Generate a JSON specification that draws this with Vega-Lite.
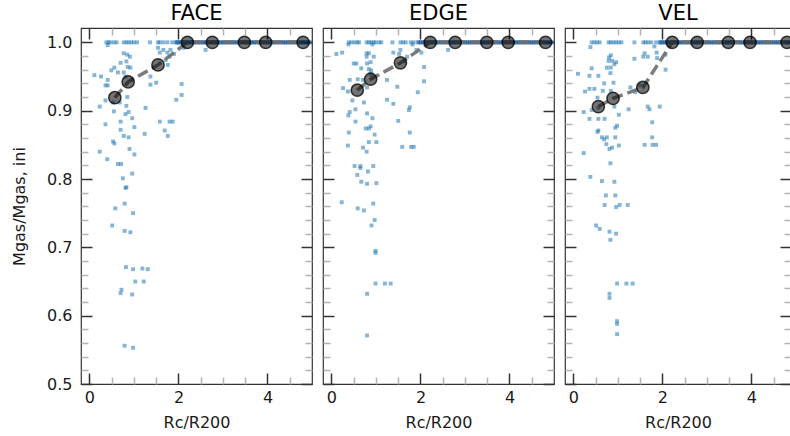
{
  "$schema": "https://vega.github.io/schema/vega-lite/v6.json",
  "background": "white",
  "padding": {"left": 10, "top": 2, "right": 0, "bottom": 0},
  "bounds": "flush",
  "spacing": 11,
  "config": {
    "font": "DejaVu Sans",
    "view": {"stroke": "#333333", "strokeWidth": 1.2},
    "axis": {"domain": false, "grid": false, "labelFont": "DejaVu Sans", "labelFontSize": 16, "labelColor": "#1a1a1a", "titleFont": "DejaVu Sans", "titleFontSize": 16, "titleFontWeight": "normal", "titleColor": "#1a1a1a", "tickWidth": 1.5, "labelOverlap": false, "labelFlush": false},
    "title": {"font": "DejaVu Sans", "fontSize": 21, "fontWeight": "normal", "color": "#000000", "offset": 3}
  },
  "datasets": {
    "band": [{"x":1.95,"y":1},{"x":2.0,"y":1},{"x":2.05,"y":1},{"x":2.1,"y":1},{"x":2.15,"y":1},{"x":2.2,"y":1},{"x":2.25,"y":1},{"x":2.3,"y":1},{"x":2.35,"y":1},{"x":2.4,"y":1},{"x":2.45,"y":1},{"x":2.5,"y":1},{"x":2.55,"y":1},{"x":2.6,"y":1},{"x":2.65,"y":1},{"x":2.7,"y":1},{"x":2.75,"y":1},{"x":2.8,"y":1},{"x":2.85,"y":1},{"x":2.9,"y":1},{"x":2.95,"y":1},{"x":3.0,"y":1},{"x":3.05,"y":1},{"x":3.1,"y":1},{"x":3.15,"y":1},{"x":3.2,"y":1},{"x":3.25,"y":1},{"x":3.3,"y":1},{"x":3.35,"y":1},{"x":3.4,"y":1},{"x":3.45,"y":1},{"x":3.5,"y":1},{"x":3.55,"y":1},{"x":3.6,"y":1},{"x":3.65,"y":1},{"x":3.7,"y":1},{"x":3.75,"y":1},{"x":3.8,"y":1},{"x":3.85,"y":1},{"x":3.9,"y":1},{"x":3.95,"y":1},{"x":4.0,"y":1},{"x":4.05,"y":1},{"x":4.1,"y":1},{"x":4.15,"y":1},{"x":4.2,"y":1},{"x":4.25,"y":1},{"x":4.3,"y":1},{"x":4.35,"y":1},{"x":4.4,"y":1},{"x":4.45,"y":1},{"x":4.5,"y":1},{"x":4.55,"y":1},{"x":4.6,"y":1},{"x":4.65,"y":1},{"x":4.7,"y":1},{"x":4.75,"y":1},{"x":4.8,"y":1},{"x":4.85,"y":1},{"x":4.9,"y":1},{"x":4.95,"y":1}],
    "face": [{"x":0.38,"y":1},{"x":0.43,"y":1},{"x":0.47,"y":1},{"x":0.55,"y":1},{"x":0.61,"y":1},{"x":0.77,"y":1},{"x":0.83,"y":1},{"x":0.88,"y":1},{"x":0.94,"y":1},{"x":1.0,"y":1},{"x":1.07,"y":1},{"x":1.36,"y":1},{"x":1.54,"y":1},{"x":1.58,"y":1},{"x":1.66,"y":1},{"x":1.75,"y":1},{"x":1.86,"y":1},{"x":1.97,"y":1},{"x":0.41,"y":0.996},
      {"x":2.61,"y":0.989},{"x":1.54,"y":0.992},{"x":1.66,"y":0.989},{"x":1.58,"y":0.985},{"x":1.75,"y":0.985},{"x":1.82,"y":0.989},{"x":2.12,"y":0.992},{"x":1.9,"y":0.983},{"x":1.8,"y":0.979},{"x":1.71,"y":0.974},{"x":1.76,"y":0.967},{"x":0.77,"y":0.984},{"x":0.85,"y":0.982},{"x":0.91,"y":0.979},{"x":0.83,"y":0.972},{"x":0.7,"y":0.97},{"x":0.56,"y":0.963},{"x":0.49,"y":0.959},{"x":0.64,"y":0.956},{"x":0.86,"y":0.964},{"x":0.92,"y":0.963},{"x":0.77,"y":0.956},{"x":0.81,"y":0.95},{"x":0.11,"y":0.952},{"x":0.26,"y":0.95},{"x":0.41,"y":0.945},{"x":0.36,"y":0.937},{"x":0.41,"y":0.937},{"x":0.94,"y":0.945},{"x":1.37,"y":0.95},{"x":1.5,"y":0.941},{"x":1.37,"y":0.938},{"x":2.07,"y":0.939},{"x":2.07,"y":0.923},{"x":1.95,"y":0.916},{"x":0.85,"y":0.92},{"x":0.36,"y":0.915},{"x":0.23,"y":0.906},{"x":0.53,"y":0.912},{"x":0.68,"y":0.912},{"x":0.55,"y":0.899},{"x":0.83,"y":0.907},{"x":0.88,"y":0.898},{"x":0.81,"y":0.895},{"x":0.96,"y":0.889},{"x":1.26,"y":0.904},{"x":0.7,"y":0.884},{"x":0.36,"y":0.88},{"x":1.58,"y":0.884},{"x":1.8,"y":0.884},{"x":1.87,"y":0.884},{"x":0.7,"y":0.872},{"x":1.01,"y":0.876},{"x":1.69,"y":0.871},{"x":1.76,"y":0.863},{"x":1.24,"y":0.866},{"x":0.77,"y":0.863},{"x":0.88,"y":0.861},{"x":0.53,"y":0.855},{"x":0.56,"y":0.852},{"x":0.23,"y":0.84},{"x":0.9,"y":0.844},{"x":1.01,"y":0.836},{"x":0.4,"y":0.829},{"x":0.64,"y":0.822},{"x":0.71,"y":0.822},{"x":0.96,"y":0.808},{"x":0.75,"y":0.801},{"x":0.81,"y":0.787},{"x":0.83,"y":0.788},{"x":0.58,"y":0.757},{"x":0.79,"y":0.764},{"x":0.98,"y":0.75},{"x":0.51,"y":0.732},{"x":0.79,"y":0.724},{"x":0.92,"y":0.722},{"x":0.82,"y":0.671},{"x":0.98,"y":0.668},{"x":1.19,"y":0.669},{"x":1.31,"y":0.668},{"x":1.03,"y":0.65},{"x":1.22,"y":0.65},{"x":0.72,"y":0.638},{"x":0.7,"y":0.633},{"x":0.96,"y":0.631},{"x":0.79,"y":0.556},{"x":0.98,"y":0.553}],
    "edge": [{"x":0.39,"y":1},{"x":0.45,"y":1},{"x":0.52,"y":1},{"x":0.58,"y":1},{"x":0.62,"y":1},{"x":0.79,"y":1},{"x":0.84,"y":1},{"x":0.89,"y":1},{"x":0.95,"y":1},{"x":0.99,"y":1},{"x":1.07,"y":1},{"x":1.12,"y":1},{"x":1.37,"y":1},{"x":1.55,"y":1},{"x":1.61,"y":1},{"x":1.67,"y":1},{"x":1.78,"y":1},{"x":1.85,"y":1},
      {"x":0.38,"y":0.997},{"x":0.92,"y":0.997},{"x":1.82,"y":0.997},{"x":0.11,"y":0.983},{"x":0.24,"y":0.985},{"x":2.62,"y":0.989},{"x":2.02,"y":0.985},{"x":1.91,"y":0.989},{"x":0.79,"y":0.984},{"x":0.84,"y":0.984},{"x":0.79,"y":0.979},{"x":0.95,"y":0.979},{"x":1.39,"y":0.985},{"x":1.55,"y":0.989},{"x":1.52,"y":0.983},{"x":1.7,"y":0.979},{"x":1.64,"y":0.972},{"x":0.5,"y":0.969},{"x":0.56,"y":0.969},{"x":0.8,"y":0.969},{"x":0.88,"y":0.971},{"x":0.67,"y":0.962},{"x":0.84,"y":0.961},{"x":0.89,"y":0.959},{"x":2.08,"y":0.964},{"x":1.25,"y":0.945},{"x":1.48,"y":0.935},{"x":2.08,"y":0.943},{"x":1.94,"y":0.927},{"x":0.41,"y":0.945},{"x":0.59,"y":0.946},{"x":0.71,"y":0.945},{"x":0.8,"y":0.934},{"x":0.88,"y":0.954},{"x":0.92,"y":0.949},{"x":0.26,"y":0.933},{"x":0.37,"y":0.928},{"x":0.47,"y":0.915},{"x":0.73,"y":0.912},{"x":1.25,"y":0.916},{"x":1.39,"y":0.91},{"x":0.54,"y":0.902},{"x":0.41,"y":0.898},{"x":0.38,"y":0.893},{"x":0.8,"y":0.896},{"x":0.92,"y":0.889},{"x":1.76,"y":0.905},{"x":1.74,"y":0.901},{"x":0.54,"y":0.884},{"x":1.5,"y":0.885},{"x":0.77,"y":0.874},{"x":0.84,"y":0.874},{"x":0.88,"y":0.877},{"x":0.39,"y":0.868},{"x":0.97,"y":0.865},{"x":1.76,"y":0.868},{"x":0.37,"y":0.849},{"x":0.71,"y":0.846},{"x":0.79,"y":0.84},{"x":0.84,"y":0.854},{"x":1.01,"y":0.854},{"x":1.59,"y":0.847},{"x":1.79,"y":0.847},{"x":1.85,"y":0.847},{"x":0.52,"y":0.819},{"x":0.65,"y":0.819},{"x":0.65,"y":0.816},{"x":0.94,"y":0.819},{"x":0.82,"y":0.811},{"x":0.58,"y":0.806},{"x":0.67,"y":0.796},{"x":0.8,"y":0.793},{"x":1.01,"y":0.794},{"x":0.23,"y":0.766},{"x":0.59,"y":0.757},{"x":0.73,"y":0.754},{"x":0.94,"y":0.764},{"x":0.97,"y":0.74},{"x":0.9,"y":0.732},{"x":0.99,"y":0.695},{"x":0.99,"y":0.692},{"x":0.99,"y":0.647},{"x":1.2,"y":0.647},{"x":1.33,"y":0.647},{"x":0.8,"y":0.632},{"x":0.8,"y":0.571}],
    "vel": [{"x":0.41,"y":1},{"x":0.47,"y":1},{"x":0.53,"y":1},{"x":0.59,"y":1},{"x":0.79,"y":1},{"x":0.84,"y":1},{"x":0.9,"y":1},{"x":0.96,"y":1},{"x":1.02,"y":1},{"x":1.08,"y":1},{"x":1.37,"y":1},{"x":1.57,"y":1},{"x":1.62,"y":1},{"x":1.68,"y":1},{"x":1.75,"y":1},{"x":1.86,"y":1},{"x":1.96,"y":1},
      {"x":0.38,"y":0.993},{"x":1.82,"y":0.994},{"x":1.6,"y":0.984},{"x":1.67,"y":0.979},{"x":1.57,"y":0.979},{"x":1.37,"y":0.976},{"x":1.87,"y":0.985},{"x":1.88,"y":0.977},{"x":2.07,"y":0.982},{"x":2.07,"y":0.96},{"x":0.84,"y":0.981},{"x":0.8,"y":0.978},{"x":0.79,"y":0.973},{"x":0.87,"y":0.973},{"x":0.96,"y":0.971},{"x":0.75,"y":0.963},{"x":0.84,"y":0.963},{"x":0.92,"y":0.968},{"x":0.41,"y":0.962},{"x":0.1,"y":0.954},{"x":0.36,"y":0.951},{"x":0.56,"y":0.951},{"x":0.83,"y":0.955},{"x":0.69,"y":0.94},{"x":0.9,"y":0.941},{"x":0.26,"y":0.928},{"x":0.36,"y":0.932},{"x":0.47,"y":0.932},{"x":0.66,"y":0.929},{"x":0.84,"y":0.929},{"x":0.54,"y":0.919},{"x":1.28,"y":0.934},{"x":1.39,"y":0.927},{"x":1.5,"y":0.937},{"x":0.23,"y":0.898},{"x":0.41,"y":0.901},{"x":0.56,"y":0.904},{"x":0.92,"y":0.906},{"x":1.24,"y":0.902},{"x":1.67,"y":0.906},{"x":1.71,"y":0.902},{"x":1.94,"y":0.906},{"x":0.36,"y":0.888},{"x":0.56,"y":0.888},{"x":0.7,"y":0.888},{"x":1.02,"y":0.894},{"x":1.77,"y":0.883},{"x":0.56,"y":0.871},{"x":0.54,"y":0.869},{"x":0.94,"y":0.875},{"x":0.98,"y":0.878},{"x":0.64,"y":0.861},{"x":0.69,"y":0.858},{"x":0.75,"y":0.861},{"x":0.94,"y":0.861},{"x":0.74,"y":0.851},{"x":0.81,"y":0.844},{"x":0.87,"y":0.846},{"x":1.02,"y":0.849},{"x":1.77,"y":0.861},{"x":1.6,"y":0.85},{"x":1.78,"y":0.85},{"x":1.86,"y":0.85},{"x":0.23,"y":0.838},{"x":0.83,"y":0.823},{"x":0.38,"y":0.803},{"x":0.64,"y":0.797},{"x":0.92,"y":0.796},{"x":0.73,"y":0.776},{"x":0.94,"y":0.776},{"x":0.7,"y":0.762},{"x":0.96,"y":0.759},{"x":1.04,"y":0.762},{"x":1.22,"y":0.762},{"x":0.51,"y":0.732},{"x":0.59,"y":0.727},{"x":0.81,"y":0.723},{"x":0.96,"y":0.72},{"x":0.83,"y":0.711},{"x":0.98,"y":0.647},{"x":1.19,"y":0.647},{"x":1.33,"y":0.647},{"x":0.81,"y":0.632},{"x":0.81,"y":0.626},{"x":0.98,"y":0.592},{"x":0.98,"y":0.588},{"x":0.98,"y":0.573}],
    "face_mean": [{"x":0.57,"y":0.919},{"x":0.87,"y":0.942},{"x":1.54,"y":0.967},{"x":2.2,"y":1.0},{"x":2.76,"y":1.0},{"x":3.48,"y":1.0},{"x":3.96,"y":1.0},{"x":4.8,"y":1.0}],
    "edge_mean": [{"x":0.58,"y":0.93},{"x":0.88,"y":0.946},{"x":1.55,"y":0.97},{"x":2.22,"y":1.0},{"x":2.78,"y":1.0},{"x":3.49,"y":1.0},{"x":3.97,"y":1.0},{"x":4.81,"y":1.0}],
    "vel_mean": [{"x":0.56,"y":0.906},{"x":0.89,"y":0.918},{"x":1.56,"y":0.934},{"x":2.22,"y":1.0},{"x":2.78,"y":1.0},{"x":3.48,"y":1.0},{"x":3.97,"y":1.0},{"x":4.8,"y":1.0}]
  },
  "hconcat": [
    {
      "title": {"text": "FACE", "fontSize": 21, "offset": 3}, "width": 231, "height": 356,
      "resolve": {"axis": {"x": "independent", "y": "independent"}},
      "layer": [
        {"data": {"name": "band"}, "mark": {"type": "point", "shape": "square", "filled": true, "size": 16, "color": "#1f5f9e", "opacity": 0.75, "strokeWidth": 0},
         "encoding": {"x": {"field": "x", "type": "quantitative", "scale": {"domain": [-0.19, 5.0], "nice": false, "zero": false}, "axis": null},
                      "y": {"field": "y", "type": "quantitative", "scale": {"domain": [0.5, 1.021], "nice": false, "zero": false}, "axis": null}}},
        {"data": {"name": "face"}, "mark": {"type": "point", "shape": "square", "filled": true, "size": 15, "color": "#1f77b4", "opacity": 0.55, "strokeWidth": 0},
         "encoding": {"x": {"field": "x", "type": "quantitative", "scale": {"domain": [-0.19, 5.0], "nice": false, "zero": false},
                            "axis": {"orient": "bottom", "values": [0,0.5,1,1.5,2,2.5,3,3.5,4,4.5], "title": "Rc/R200", "labelFontSize": 16, "titleFontSize": 16, "labelExpr": "datum.value % 2 === 0 ? format(datum.value, 'd') : ''", "tickSize": {"condition": {"test": "datum.value % 2 === 0", "value": -11}, "value": -7}, "tickColor": {"condition": {"test": "datum.value % 2 === 0", "value": "#333333"}, "value": "#b3b3b3"}, "labelPadding": 16, "titlePadding": 5}},
                      "y": {"field": "y", "type": "quantitative", "scale": {"domain": [0.5, 1.021], "nice": false, "zero": false},
                            "axis": {"orient": "left", "values": [0.5,0.52,0.54,0.56,0.58,0.6,0.62,0.64,0.66,0.68,0.7,0.72,0.74,0.76,0.78,0.8,0.82,0.84,0.86,0.88,0.9,0.92,0.94,0.96,0.98,1.0], "title": "Mgas/Mgas, ini", "labelFontSize": 16, "titleFontSize": 16, "labelExpr": "abs(datum.value*10 - round(datum.value*10)) < 0.001 ? format(datum.value, '.1f') : ''", "tickSize": {"condition": {"test": "abs(datum.value*10 - round(datum.value*10)) < 0.001", "value": -11}, "value": -7}, "tickColor": {"condition": {"test": "abs(datum.value*10 - round(datum.value*10)) < 0.001", "value": "#333333"}, "value": "#b3b3b3"}, "labelPadding": 20, "titlePadding": 19}}}},
        {"data": {"name": "face_mean"}, "mark": {"type": "line", "color": "#6e6e6e", "strokeWidth": 3.5, "strokeDash": [11, 5], "opacity": 0.9},
         "encoding": {"x": {"field": "x", "type": "quantitative", "scale": {"domain": [-0.19, 5.0], "nice": false, "zero": false},
                            "axis": {"orient": "top", "values": [0,0.5,1,1.5,2,2.5,3,3.5,4,4.5], "title": null, "labels": false, "tickSize": {"condition": {"test": "datum.value % 2 === 0", "value": -11}, "value": -7}, "tickColor": {"condition": {"test": "datum.value % 2 === 0", "value": "#333333"}, "value": "#b3b3b3"}}},
                      "y": {"field": "y", "type": "quantitative", "scale": {"domain": [0.5, 1.021], "nice": false, "zero": false},
                            "axis": {"orient": "right", "values": [0.5,0.52,0.54,0.56,0.58,0.6,0.62,0.64,0.66,0.68,0.7,0.72,0.74,0.76,0.78,0.8,0.82,0.84,0.86,0.88,0.9,0.92,0.94,0.96,0.98,1.0], "title": null, "labels": false, "tickSize": {"condition": {"test": "abs(datum.value*10 - round(datum.value*10)) < 0.001", "value": -11}, "value": -7}, "tickColor": {"condition": {"test": "abs(datum.value*10 - round(datum.value*10)) < 0.001", "value": "#333333"}, "value": "#b3b3b3"}}}}},
        {"data": {"name": "face_mean"}, "mark": {"type": "point", "shape": "circle", "filled": true, "size": 150, "color": "#000000", "fillOpacity": 0.55, "stroke": "#000000", "strokeOpacity": 0.75, "strokeWidth": 1.5},
         "encoding": {"x": {"field": "x", "type": "quantitative", "scale": {"domain": [-0.19, 5.0], "nice": false, "zero": false}, "axis": null},
                      "y": {"field": "y", "type": "quantitative", "scale": {"domain": [0.5, 1.021], "nice": false, "zero": false}, "axis": null}}}
      ]
    },
    {
      "title": {"text": "EDGE", "fontSize": 21, "offset": 3}, "width": 231, "height": 356,
      "resolve": {"axis": {"x": "independent", "y": "independent"}},
      "layer": [
        {"data": {"name": "band"}, "mark": {"type": "point", "shape": "square", "filled": true, "size": 16, "color": "#1f5f9e", "opacity": 0.75, "strokeWidth": 0},
         "encoding": {"x": {"field": "x", "type": "quantitative", "scale": {"domain": [-0.19, 5.0], "nice": false, "zero": false}, "axis": null},
                      "y": {"field": "y", "type": "quantitative", "scale": {"domain": [0.5, 1.021], "nice": false, "zero": false}, "axis": null}}},
        {"data": {"name": "edge"}, "mark": {"type": "point", "shape": "square", "filled": true, "size": 15, "color": "#1f77b4", "opacity": 0.55, "strokeWidth": 0},
         "encoding": {"x": {"field": "x", "type": "quantitative", "scale": {"domain": [-0.19, 5.0], "nice": false, "zero": false},
                            "axis": {"orient": "bottom", "values": [0,0.5,1,1.5,2,2.5,3,3.5,4,4.5], "title": "Rc/R200", "labelFontSize": 16, "titleFontSize": 16, "labelExpr": "datum.value % 2 === 0 ? format(datum.value, 'd') : ''", "tickSize": {"condition": {"test": "datum.value % 2 === 0", "value": -11}, "value": -7}, "tickColor": {"condition": {"test": "datum.value % 2 === 0", "value": "#333333"}, "value": "#b3b3b3"}, "labelPadding": 16, "titlePadding": 5}},
                      "y": {"field": "y", "type": "quantitative", "scale": {"domain": [0.5, 1.021], "nice": false, "zero": false},
                            "axis": {"orient": "left", "values": [0.5,0.52,0.54,0.56,0.58,0.6,0.62,0.64,0.66,0.68,0.7,0.72,0.74,0.76,0.78,0.8,0.82,0.84,0.86,0.88,0.9,0.92,0.94,0.96,0.98,1.0], "title": null, "labels": false, "tickSize": {"condition": {"test": "abs(datum.value*10 - round(datum.value*10)) < 0.001", "value": -11}, "value": -7}, "tickColor": {"condition": {"test": "abs(datum.value*10 - round(datum.value*10)) < 0.001", "value": "#333333"}, "value": "#b3b3b3"}}}}},
        {"data": {"name": "edge_mean"}, "mark": {"type": "line", "color": "#6e6e6e", "strokeWidth": 3.5, "strokeDash": [11, 5], "opacity": 0.9},
         "encoding": {"x": {"field": "x", "type": "quantitative", "scale": {"domain": [-0.19, 5.0], "nice": false, "zero": false},
                            "axis": {"orient": "top", "values": [0,0.5,1,1.5,2,2.5,3,3.5,4,4.5], "title": null, "labels": false, "tickSize": {"condition": {"test": "datum.value % 2 === 0", "value": -11}, "value": -7}, "tickColor": {"condition": {"test": "datum.value % 2 === 0", "value": "#333333"}, "value": "#b3b3b3"}}},
                      "y": {"field": "y", "type": "quantitative", "scale": {"domain": [0.5, 1.021], "nice": false, "zero": false},
                            "axis": {"orient": "right", "values": [0.5,0.52,0.54,0.56,0.58,0.6,0.62,0.64,0.66,0.68,0.7,0.72,0.74,0.76,0.78,0.8,0.82,0.84,0.86,0.88,0.9,0.92,0.94,0.96,0.98,1.0], "title": null, "labels": false, "tickSize": {"condition": {"test": "abs(datum.value*10 - round(datum.value*10)) < 0.001", "value": -11}, "value": -7}, "tickColor": {"condition": {"test": "abs(datum.value*10 - round(datum.value*10)) < 0.001", "value": "#333333"}, "value": "#b3b3b3"}}}}},
        {"data": {"name": "edge_mean"}, "mark": {"type": "point", "shape": "circle", "filled": true, "size": 150, "color": "#000000", "fillOpacity": 0.55, "stroke": "#000000", "strokeOpacity": 0.75, "strokeWidth": 1.5},
         "encoding": {"x": {"field": "x", "type": "quantitative", "scale": {"domain": [-0.19, 5.0], "nice": false, "zero": false}, "axis": null},
                      "y": {"field": "y", "type": "quantitative", "scale": {"domain": [0.5, 1.021], "nice": false, "zero": false}, "axis": null}}}
      ]
    },
    {
      "title": {"text": "VEL", "fontSize": 21, "offset": 3}, "width": 226, "height": 356,
      "resolve": {"axis": {"x": "independent", "y": "independent"}},
      "layer": [
        {"data": {"name": "band"}, "mark": {"type": "point", "shape": "square", "filled": true, "size": 16, "color": "#1f5f9e", "opacity": 0.75, "strokeWidth": 0, "clip": true},
         "encoding": {"x": {"field": "x", "type": "quantitative", "scale": {"domain": [-0.19, 4.89], "nice": false, "zero": false}, "axis": null},
                      "y": {"field": "y", "type": "quantitative", "scale": {"domain": [0.5, 1.021], "nice": false, "zero": false}, "axis": null}}},
        {"data": {"name": "vel"}, "mark": {"type": "point", "shape": "square", "filled": true, "size": 15, "color": "#1f77b4", "opacity": 0.55, "strokeWidth": 0},
         "encoding": {"x": {"field": "x", "type": "quantitative", "scale": {"domain": [-0.19, 4.89], "nice": false, "zero": false},
                            "axis": {"orient": "bottom", "values": [0,0.5,1,1.5,2,2.5,3,3.5,4,4.5], "title": "Rc/R200", "labelFontSize": 16, "titleFontSize": 16, "labelExpr": "datum.value % 2 === 0 ? format(datum.value, 'd') : ''", "tickSize": {"condition": {"test": "datum.value % 2 === 0", "value": -11}, "value": -7}, "tickColor": {"condition": {"test": "datum.value % 2 === 0", "value": "#333333"}, "value": "#b3b3b3"}, "labelPadding": 16, "titlePadding": 5}},
                      "y": {"field": "y", "type": "quantitative", "scale": {"domain": [0.5, 1.021], "nice": false, "zero": false},
                            "axis": {"orient": "left", "values": [0.5,0.52,0.54,0.56,0.58,0.6,0.62,0.64,0.66,0.68,0.7,0.72,0.74,0.76,0.78,0.8,0.82,0.84,0.86,0.88,0.9,0.92,0.94,0.96,0.98,1.0], "title": null, "labels": false, "tickSize": {"condition": {"test": "abs(datum.value*10 - round(datum.value*10)) < 0.001", "value": -11}, "value": -7}, "tickColor": {"condition": {"test": "abs(datum.value*10 - round(datum.value*10)) < 0.001", "value": "#333333"}, "value": "#b3b3b3"}}}}},
        {"data": {"name": "vel_mean"}, "mark": {"type": "line", "color": "#6e6e6e", "strokeWidth": 3.5, "strokeDash": [11, 5], "opacity": 0.9, "clip": true},
         "encoding": {"x": {"field": "x", "type": "quantitative", "scale": {"domain": [-0.19, 4.89], "nice": false, "zero": false},
                            "axis": {"orient": "top", "values": [0,0.5,1,1.5,2,2.5,3,3.5,4,4.5], "title": null, "labels": false, "tickSize": {"condition": {"test": "datum.value % 2 === 0", "value": -11}, "value": -7}, "tickColor": {"condition": {"test": "datum.value % 2 === 0", "value": "#333333"}, "value": "#b3b3b3"}}},
                      "y": {"field": "y", "type": "quantitative", "scale": {"domain": [0.5, 1.021], "nice": false, "zero": false},
                            "axis": {"orient": "right", "values": [0.5,0.52,0.54,0.56,0.58,0.6,0.62,0.64,0.66,0.68,0.7,0.72,0.74,0.76,0.78,0.8,0.82,0.84,0.86,0.88,0.9,0.92,0.94,0.96,0.98,1.0], "title": null, "labels": false, "tickSize": {"condition": {"test": "abs(datum.value*10 - round(datum.value*10)) < 0.001", "value": -11}, "value": -7}, "tickColor": {"condition": {"test": "abs(datum.value*10 - round(datum.value*10)) < 0.001", "value": "#333333"}, "value": "#b3b3b3"}}}}},
        {"data": {"name": "vel_mean"}, "mark": {"type": "point", "shape": "circle", "filled": true, "size": 150, "color": "#000000", "fillOpacity": 0.55, "stroke": "#000000", "strokeOpacity": 0.75, "strokeWidth": 1.5},
         "encoding": {"x": {"field": "x", "type": "quantitative", "scale": {"domain": [-0.19, 4.89], "nice": false, "zero": false}, "axis": null},
                      "y": {"field": "y", "type": "quantitative", "scale": {"domain": [0.5, 1.021], "nice": false, "zero": false}, "axis": null}}}
      ]
    }
  ]
}
